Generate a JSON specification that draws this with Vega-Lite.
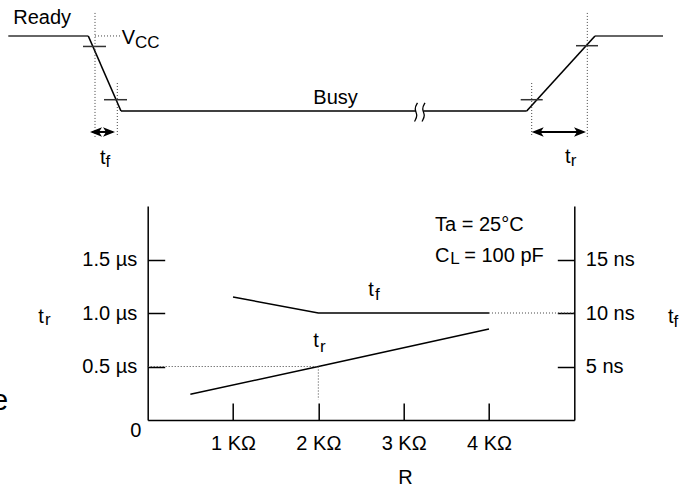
{
  "$schema": "https://vega.github.io/schema/vega-lite/v6.json",
  "width": 426.6,
  "height": 214,
  "autosize": {"type": "none"},
  "padding": {"left": 147.7, "top": 206, "right": 116.7, "bottom": 72},
  "background": "white",
  "config": {
    "view": {"stroke": null},
    "font": "Liberation Sans",
    "axis": {"grid": false, "labelFont": "Liberation Sans", "labelFontSize": 20, "labelColor": "black", "domainColor": "black", "domainWidth": 1.5, "tickColor": "black", "tickWidth": 1.5, "titleFont": "Liberation Sans", "titleFontWeight": "normal", "titleColor": "black"}
  },
  "datasets": {
    "tr_curve": [{"R": 0.5, "t": 0.24}, {"R": 2, "t": 0.5}, {"R": 4, "t": 0.85}],
    "guides_us": [{"R": 0, "t": 0.5, "R2": 2, "t2": 0.5}, {"R": 2, "t": 0.5, "R2": 2, "t2": 0.19}],
    "labels_us": [
      {"R": -1.282, "t": 0.909, "label": "t"},
      {"R": 6.098, "t": 0.904, "label": "t"},
      {"R": 2.586, "t": 1.159, "label": "t"},
      {"R": 1.941, "t": 0.679, "label": "t"},
      {"R": 3.367, "t": 1.766, "label": "Ta = 25°C"},
      {"R": 3.367, "t": 1.479, "label": "C"},
      {"R": 3.71, "t": 1.479, "label": "= 100 pF"}
    ],
    "subs_us": [
      {"R": -1.204, "t": 0.888, "label": "r"},
      {"R": 6.163, "t": 0.869, "label": "f"},
      {"R": 2.664, "t": 1.121, "label": "f"},
      {"R": 2.02, "t": 0.638, "label": "r"},
      {"R": 3.545, "t": 1.458, "label": "L"}
    ],
    "origin": [{"R": -0.138, "t": -0.159, "label": "0"}],
    "edge": [{"R": -1.637, "t": 0.093, "label": "e"}],
    "tf_curve": [{"R": 1, "ns": 11.5}, {"R": 2, "ns": 10}, {"R": 4, "ns": 10}],
    "tf_ext": [{"R": 4, "ns": 10, "R2": 5, "ns2": 10}],
    "wave_high": [{"u": -8, "v": 1, "u2": 0, "v2": 1}, {"u": 50.67, "v": 1, "u2": 57.47, "v2": 1}],
    "wave_signal": [
      {"u": 0, "v": 1, "u2": 3.27, "v2": 0},
      {"u": 3.27, "v": 0, "u2": 32.77, "v2": 0},
      {"u": 33.52, "v": 0, "u2": 43.84, "v2": 0},
      {"u": 43.84, "v": 0, "u2": 50.67, "v2": 1}
    ],
    "wave_ticks": [
      {"u": -0.53, "v": 0.86, "u2": 1.77, "v2": 0.86},
      {"u": 1.57, "v": 0.15, "u2": 3.87, "v2": 0.15},
      {"u": 43.24, "v": 0.15, "u2": 45.44, "v2": 0.15},
      {"u": 48.77, "v": 0.87, "u2": 50.97, "v2": 0.87}
    ],
    "wave_dotted": [
      {"u": 0.67, "v": 1.307, "u2": 0.67, "v2": -0.347},
      {"u": 0.67, "v": 1, "u2": 3.17, "v2": 1},
      {"u": 2.9, "v": 0.373, "u2": 2.9, "v2": -0.347},
      {"u": 44.34, "v": 0.373, "u2": 44.34, "v2": -0.347},
      {"u": 49.9, "v": 1.307, "u2": 49.9, "v2": -0.347}
    ],
    "wave_arrows": [{"u": 0.4, "v": -0.28, "u2": 2.45, "v2": -0.28}, {"u": 44.6, "v": -0.28, "u2": 49.5, "v2": -0.28}],
    "heads_left": [{"u": 0.77, "v": -0.28}, {"u": 44.94, "v": -0.28}],
    "heads_right": [{"u": 2.07, "v": -0.28}, {"u": 49.17, "v": -0.28}],
    "squiggles": [
      {"id": 1, "k": 0, "u": 32.92, "v": 0.107},
      {"id": 1, "k": 1, "u": 32.57, "v": 0.03},
      {"id": 1, "k": 2, "u": 32.97, "v": -0.06},
      {"id": 1, "k": 3, "u": 32.62, "v": -0.14},
      {"id": 2, "k": 0, "u": 33.67, "v": 0.107},
      {"id": 2, "k": 1, "u": 33.32, "v": 0.03},
      {"id": 2, "k": 2, "u": 33.72, "v": -0.06},
      {"id": 2, "k": 3, "u": 33.37, "v": -0.14}
    ],
    "wave_text": [
      {"u": -7.5, "v": 1.156, "label": "Ready"},
      {"u": 3.34, "v": 0.889, "label": "V"},
      {"u": 22.5, "v": 0.089, "label": "Busy"},
      {"u": 1.17, "v": -0.707, "label": "t"},
      {"u": 47.67, "v": -0.697, "label": "t"}
    ],
    "wave_sub": [
      {"u": 4.67, "v": 0.844, "label": "CC"},
      {"u": 1.72, "v": -0.747, "label": "f"},
      {"u": 48.25, "v": -0.74, "label": "r"}
    ]
  },
  "layer": [
    {
      "encoding": {
        "x": {"field": "R", "type": "quantitative", "scale": {"domain": [0, 5], "nice": false, "zero": false},
          "axis": {"values": [1, 2, 3, 4], "labelExpr": "datum.value + ' KΩ'", "tickSize": -17, "labelPadding": 30.5, "title": "R", "titleFontSize": 20, "titleX": 257.3, "titleY": 63.3, "titleAlign": "center", "titleBaseline": "alphabetic"}},
        "y": {"field": "t", "type": "quantitative", "scale": {"domain": [0, 2], "nice": false, "zero": false},
          "axis": {"values": [0.5, 1, 1.5], "labelExpr": "format(datum.value, '.1f') + ' µs'", "tickSize": -17, "labelPadding": 28, "title": null}}
      },
      "layer": [
        {"data": {"name": "tr_curve"}, "mark": {"type": "line", "color": "black", "strokeWidth": 1.5}},
        {"data": {"name": "guides_us"}, "mark": {"type": "rule", "color": "#444", "strokeWidth": 1, "strokeDash": [1, 2]},
          "encoding": {"x2": {"field": "R2"}, "y2": {"field": "t2"}}},
        {"data": {"name": "labels_us"}, "mark": {"type": "text", "align": "left", "baseline": "alphabetic", "fontSize": 20, "color": "black"},
          "encoding": {"text": {"field": "label"}}},
        {"data": {"name": "subs_us"}, "mark": {"type": "text", "align": "left", "baseline": "alphabetic", "fontSize": 17, "color": "black"},
          "encoding": {"text": {"field": "label"}}},
        {"data": {"name": "origin"}, "mark": {"type": "text", "align": "center", "baseline": "alphabetic", "fontSize": 20, "color": "black"},
          "encoding": {"text": {"field": "label"}}},
        {"data": {"name": "edge"}, "mark": {"type": "text", "align": "right", "baseline": "alphabetic", "fontSize": 29, "color": "black"},
          "encoding": {"text": {"field": "label"}}}
      ]
    },
    {
      "encoding": {
        "x": {"field": "R", "type": "quantitative", "scale": {"domain": [0, 5], "nice": false, "zero": false}, "axis": null},
        "y": {"field": "ns", "type": "quantitative", "scale": {"domain": [0, 20], "nice": false, "zero": false},
          "axis": {"orient": "right", "values": [5, 10, 15], "labelExpr": "datum.value + ' ns'", "tickSize": -17, "labelPadding": 28, "title": null}}
      },
      "layer": [
        {"data": {"name": "tf_curve"}, "mark": {"type": "line", "color": "black", "strokeWidth": 1.5}},
        {"data": {"name": "tf_ext"}, "mark": {"type": "rule", "color": "#444", "strokeWidth": 1, "strokeDash": [1, 2]},
          "encoding": {"x2": {"field": "R2"}, "y2": {"field": "ns2"}}}
      ]
    },
    {
      "encoding": {
        "x": {"field": "u", "type": "quantitative", "scale": {"domain": [5.94, 48.6], "nice": false, "zero": false}, "axis": null},
        "y": {"field": "v", "type": "quantitative", "scale": {"domain": [-4.12, -1.267], "nice": false, "zero": false}, "axis": null}
      },
      "layer": [
        {"data": {"name": "wave_high"}, "mark": {"type": "rule", "color": "#666", "strokeWidth": 2},
          "encoding": {"x2": {"field": "u2"}, "y2": {"field": "v2"}}},
        {"data": {"name": "wave_signal"}, "mark": {"type": "rule", "color": "black", "strokeWidth": 1.6},
          "encoding": {"x2": {"field": "u2"}, "y2": {"field": "v2"}}},
        {"data": {"name": "wave_ticks"}, "mark": {"type": "rule", "color": "#333", "strokeWidth": 1.5},
          "encoding": {"x2": {"field": "u2"}, "y2": {"field": "v2"}}},
        {"data": {"name": "wave_dotted"}, "mark": {"type": "rule", "color": "#444", "strokeWidth": 1, "strokeDash": [1, 2]},
          "encoding": {"x2": {"field": "u2"}, "y2": {"field": "v2"}}},
        {"data": {"name": "wave_arrows"}, "mark": {"type": "rule", "color": "black", "strokeWidth": 2},
          "encoding": {"x2": {"field": "u2"}, "y2": {"field": "v2"}}},
        {"data": {"name": "heads_left"}, "mark": {"type": "point", "filled": true, "color": "black", "opacity": 1, "size": 144, "shape": "M-1,0L1,-0.8L0.5,0L1,0.8Z"}},
        {"data": {"name": "heads_right"}, "mark": {"type": "point", "filled": true, "color": "black", "opacity": 1, "size": 144, "shape": "M1,0L-1,-0.8L-0.5,0L-1,0.8Z"}},
        {"data": {"name": "squiggles"}, "mark": {"type": "line", "color": "black", "strokeWidth": 1.3, "interpolate": "basis"},
          "encoding": {"detail": {"field": "id"}, "order": {"field": "k"}}},
        {"data": {"name": "wave_text"}, "mark": {"type": "text", "align": "left", "baseline": "alphabetic", "fontSize": 20, "color": "black"},
          "encoding": {"text": {"field": "label"}}},
        {"data": {"name": "wave_sub"}, "mark": {"type": "text", "align": "left", "baseline": "alphabetic", "fontSize": 17, "color": "black"},
          "encoding": {"text": {"field": "label"}}}
      ]
    }
  ],
  "resolve": {"scale": {"x": "independent", "y": "independent"}}
}
